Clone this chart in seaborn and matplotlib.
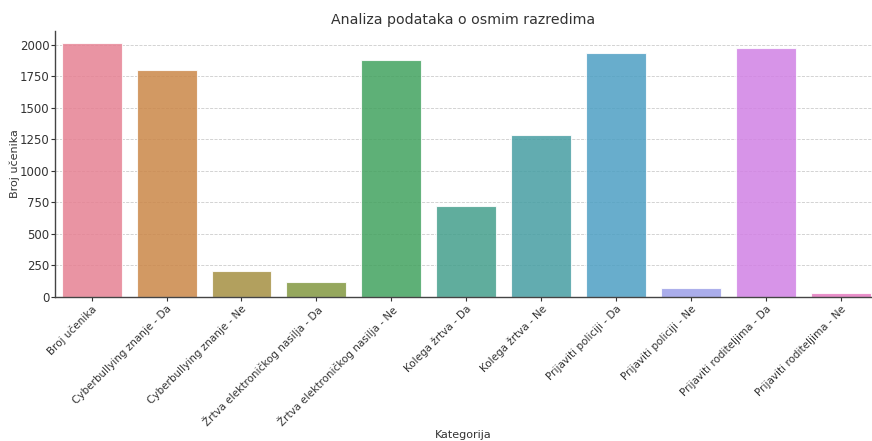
import matplotlib
matplotlib.use("Agg")
import matplotlib.pyplot as plt
import seaborn as sns
import pandas as pd

# Values
categories = [
    "Broj učenika",
    "Cyberbullying znanje - Da",
    "Cyberbullying znanje - Ne",
    "Žrtva elektroničkog nasilja - Da",
    "Žrtva elektroničkog nasilja - Ne",
    "Kolega žrtva - Da",
    "Kolega žrtva - Ne",
    "Prijaviti policiji - Da",
    "Prijaviti policiji - Ne",
    "Prijaviti roditeljima - Da",
    "Prijaviti roditeljima - Ne",
]
counts = [2010, 1801, 201, 120, 1878, 720, 1283, 1931, 69, 1974, 29]

df = pd.DataFrame({"Kategorija": categories, "Broj učenika": counts})

sns.set_style("white")
plt.rcParams["font.family"] = ["DejaVu Sans"]
plt.rcParams["text.color"] = "#333333"
plt.rcParams["axes.labelcolor"] = "#333333"
plt.rcParams["xtick.color"] = "#333333"
plt.rcParams["ytick.color"] = "#333333"

fig, ax = plt.subplots(figsize=(8.72, 4.41), dpi=100)
fig.subplots_adjust(left=0.063, right=0.9995, bottom=0.327, top=0.93)

sns.barplot(data=df, x="Kategorija", y="Broj učenika", hue="Kategorija",
            palette="husl", saturation=0.75, legend=False, ax=ax,
            edgecolor="white", linewidth=0.8, alpha=0.85)

ax.set_xlim(-0.49, 10.41)
ax.set_ylim(0, 2110)
ax.set_yticks(range(0, 2001, 250))
ax.yaxis.grid(True, linestyle="--", color="#cccccc", linewidth=0.6)
ax.set_axisbelow(True)
for s in ["top", "right"]:
    ax.spines[s].set_visible(False)
for s in ["left", "bottom"]:
    ax.spines[s].set_color("#444444")
    ax.spines[s].set_linewidth(1.0)
ax.tick_params(axis="x", length=3, direction="out", labelsize=7.5, bottom=True, pad=2)
ax.tick_params(axis="y", length=3, direction="out", labelsize=8.5, left=True, pad=1)
plt.setp(ax.get_xticklabels(), rotation=45, ha="right", rotation_mode="anchor")

ax.set_title("Analiza podataka o osmim razredima", fontsize=10.2, pad=5)
ax.set_xlabel("Kategorija", fontsize=8)
ax.set_ylabel("Broj učenika", fontsize=8)
ax.xaxis.set_label_coords(0.5, -0.5)
ax.yaxis.set_label_coords(-0.043, 0.5)

fig.savefig("out.png", dpi=100)
